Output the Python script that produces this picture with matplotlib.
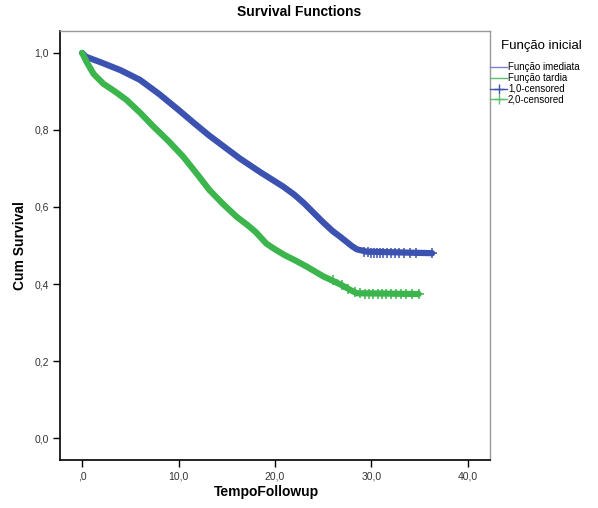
import matplotlib
matplotlib.use("Agg")
import matplotlib.pyplot as plt
from matplotlib.lines import Line2D
from matplotlib.ticker import FuncFormatter

plt.rcParams["font.family"] = ["Liberation Sans", "DejaVu Sans"]

# Kaplan-Meier curves (time, cumulative survival)
imediata_t = [0.0, 0.4, 2.0, 4.0, 6.0, 8.0, 10.0, 11.6, 13.2, 14.8, 16.35, 18.5, 20.85, 22.0, 23.0, 24.0, 25.0, 26.0, 26.8, 27.4, 28.0, 28.5, 29.5, 36.3]
imediata_s = [1.0, 0.99, 0.975, 0.955, 0.93, 0.893, 0.852, 0.818, 0.785, 0.755, 0.726, 0.69, 0.653, 0.632, 0.61, 0.585, 0.56, 0.537, 0.522, 0.51, 0.498, 0.49, 0.484, 0.48]
tardia_t = [0.0, 0.5, 1.2, 2.2, 3.4, 4.6, 6.0, 7.35, 9.0, 10.5, 12.0, 13.2, 14.6, 16.0, 17.2, 18.0, 19.1, 20.0, 21.0, 22.2, 23.3, 25.0, 26.7, 28.0, 28.5, 34.9]
tardia_s = [1.0, 0.975, 0.945, 0.92, 0.9, 0.878, 0.845, 0.81, 0.77, 0.73, 0.683, 0.644, 0.608, 0.575, 0.552, 0.535, 0.505, 0.49, 0.475, 0.46, 0.445, 0.42, 0.40, 0.382, 0.376, 0.374]

# censored observations on the plateaus
imediata_cens_t = [29.2, 29.6, 30.0, 30.3, 30.6, 30.9, 31.2, 31.6, 32.0, 32.4, 32.9, 33.4, 34.0, 34.6, 36.3]
imediata_cens_s = [0.484, 0.482, 0.481, 0.481, 0.481, 0.481, 0.481, 0.48, 0.48, 0.48, 0.48, 0.48, 0.48, 0.48, 0.48]
tardia_cens_t = [26.0, 26.9, 27.6, 28.3, 28.8, 29.3, 29.7, 30.2, 30.7, 31.1, 31.5, 32.0, 32.6, 33.1, 33.6, 34.2, 34.9]
tardia_cens_s = [0.41, 0.397, 0.386, 0.378, 0.376, 0.375, 0.375, 0.375, 0.374, 0.374, 0.374, 0.374, 0.374, 0.374, 0.374, 0.374, 0.374]

x_ticks = [0, 10, 20, 30, 40]
y_ticks = [0.0, 0.2, 0.4, 0.6, 0.8, 1.0]

BLUE = "#3c52b0"
GREEN = "#3cb54c"
BLUE_LEG = "#7f7fd8"
GREEN_LEG = "#5cbf6c"


def x_fmt(v, _pos):
    return ",0" if v == 0 else f"{v:.1f}".replace(".", ",")


def y_fmt(v, _pos):
    return f"{v:.1f}".replace(".", ",")


fig = plt.figure(figsize=(5.98, 5.08), dpi=100, facecolor="white")
ax = fig.add_axes([0.1003, 0.0945, 0.7191, 0.8445])

ax.plot(imediata_t, imediata_s, color=BLUE, linewidth=4.5, solid_capstyle="round",
        solid_joinstyle="round", zorder=3)
ax.plot(tardia_t, tardia_s, color=GREEN, linewidth=4.5, solid_capstyle="round",
        solid_joinstyle="round", zorder=3)
ax.plot(imediata_cens_t, imediata_cens_s, "+", color=BLUE, markersize=7, markeredgewidth=1.1, zorder=4)
ax.plot(tardia_cens_t, tardia_cens_s, "+", color=GREEN, markersize=7, markeredgewidth=1.1, zorder=4)
ax.plot([29.5, 36.3], [0.48, 0.48], color=BLUE, linewidth=1.5, zorder=3)
ax.plot([28.5, 34.9], [0.374, 0.374], color=GREEN, linewidth=1.5, zorder=3)

ax.set_xlim(-2.3, 42.3)
ax.set_ylim(-0.057, 1.057)
ax.set_xticks(x_ticks)
ax.set_yticks(y_ticks)
ax.xaxis.set_major_formatter(FuncFormatter(x_fmt))
ax.yaxis.set_major_formatter(FuncFormatter(y_fmt))
ax.tick_params(axis="both", direction="out", length=5, width=1, labelsize=7.5,
               labelcolor="#333333", top=False, right=False, pad=3)
for side in ("left", "bottom"):
    ax.spines[side].set_color("black")
    ax.spines[side].set_linewidth(1.2)
for side in ("top", "right"):
    ax.spines[side].set_color("#999999")
    ax.spines[side].set_linewidth(1.0)

ax.set_xlabel("TempoFollowup", fontsize=10, fontweight="bold", va="center")
ax.xaxis.set_label_coords(0.48, -0.075)
ax.set_ylabel("Cum Survival", fontsize=10, fontweight="bold", va="center")
ax.yaxis.set_label_coords(-0.094, 0.5)
fig.text(0.5, 0.976, "Survival Functions", fontsize=10, fontweight="bold",
         ha="center", va="center")

fig.text(0.905, 0.909, "Função inicial", fontsize=9.5, ha="center", va="center")
handles = [
    Line2D([], [], color=BLUE_LEG, linewidth=1),
    Line2D([], [], color=GREEN_LEG, linewidth=1),
    Line2D([], [], color=BLUE, linewidth=1, marker="+", markersize=7),
    Line2D([], [], color=GREEN_LEG, linewidth=1, marker="+", markersize=7),
]
labels = ["Função imediata", "Função tardia", "1,0-censored", "2,0-censored"]
fig.legend(handles, labels, loc="upper left", bbox_to_anchor=(0.82, 0.878),
           frameon=False, fontsize=7, handlelength=1.7, handletextpad=0.1,
           labelspacing=0.1, borderaxespad=0, borderpad=0)

fig.savefig("out.png", dpi=100, facecolor="white")
